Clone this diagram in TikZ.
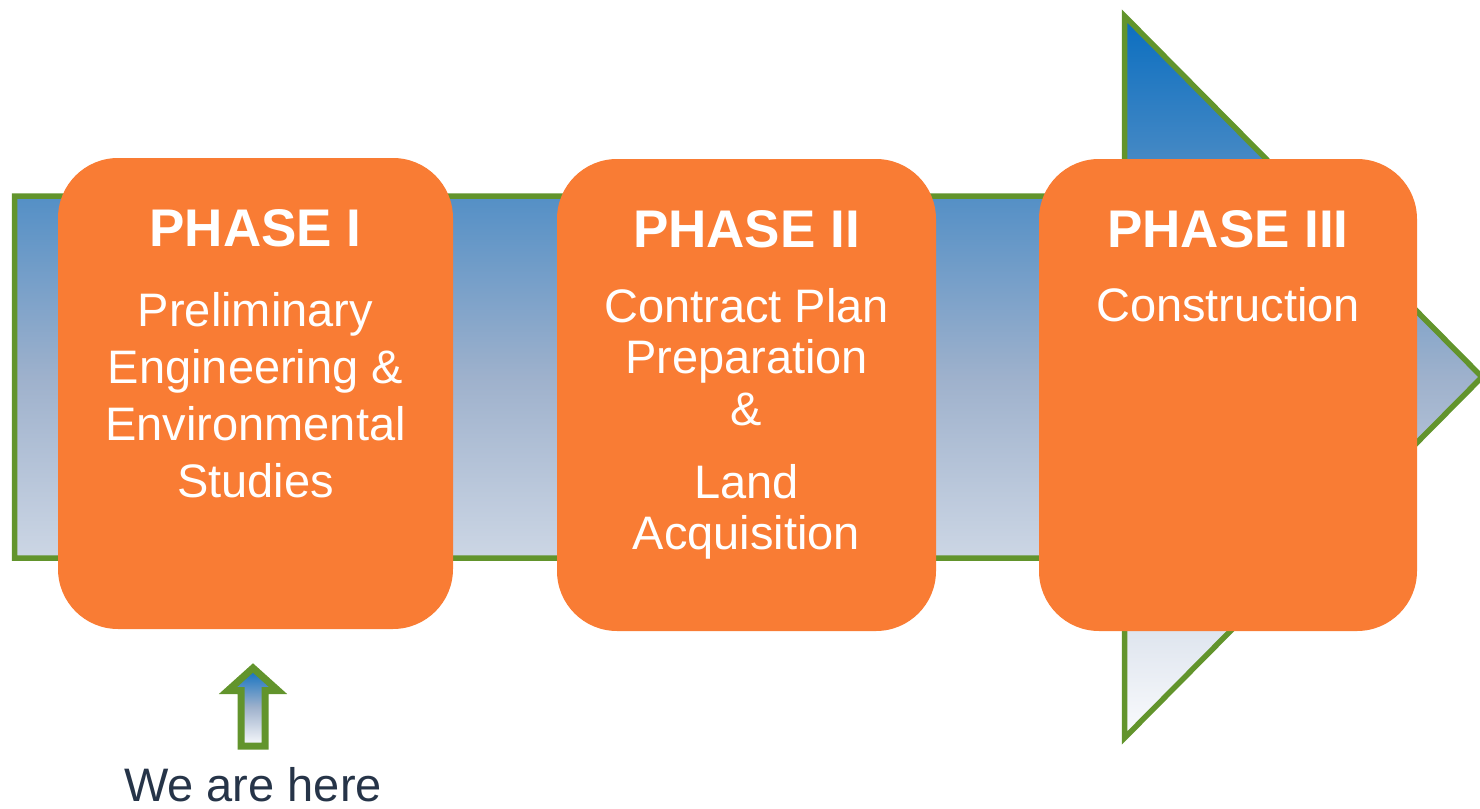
\documentclass[tikz,border=0pt]{standalone}
\usepackage{fontspec}
\setmainfont{Liberation Sans}
\usepackage{tikz}
\usetikzlibrary{positioning}
\definecolor{phaseorange}{RGB}{249,124,52}
\definecolor{arrowgreen}{RGB}{98,148,44}
\definecolor{arrowblue}{RGB}{10,110,192}
\definecolor{arrowgrey}{RGB}{158,177,204}
\definecolor{arrowwhite}{RGB}{250,251,253}
\definecolor{heretext}{RGB}{38,52,72}
\tikzstyle{phase} = [rectangle, rounded corners = 30, fill = phaseorange,
  inner sep = 0, minimum height = 236]
\tikzstyle{phasetitle} = [text = white, inner sep = 0, anchor = base,
  font = \fontsize{26.5}{32}\selectfont\bfseries]
\tikzstyle{phasetext} = [text = white, inner sep = 0, anchor = base,
  align = center, font = \fontsize{23.5}{28.5}\selectfont]
\tikzstyle{blockarrow} = [draw = arrowgreen, line width = 2.75,
  top color = arrowblue, bottom color = arrowwhite, middle color = arrowgrey]

\begin{document}
\begin{tikzpicture}[x = 0.5pt, y = -0.5pt, node distance = 0]
      \useasboundingbox (0, 0) rectangle (1480, 809);
      % big arrow
      \draw [blockarrow] (14.5, 196) -- (1124.5, 196) -- (1124.5, 16) --
      (1482, 377) -- (1124.5, 738) -- (1124.5, 558) -- (14.5, 558) -- cycle;
      % boxes
      \node [phase, minimum width = 197.5, minimum height = 235.5]
        (phase-1) at (255.5, 393.5) {};
      \node [phase, minimum width = 189.5, right of = phase-1, xshift = 245.5,
        yshift = -0.75] (phase-2) {};
      \node [phase, minimum width = 189, right of = phase-2, xshift = 240.75]
        (phase-3) {};
      % titles
      \node [phasetitle] (title-1) at ([yshift = -44.5] phase-1.north)
        {PHASE I};
      \node [phasetitle] (title-2) at ([yshift = -44.5] phase-2.north)
        {PHASE II};
      \node [phasetitle] (title-3) at ([yshift = -44.5] phase-3.north)
        {PHASE III};
      % texts (base = last line)
      \node [phasetext] (text-1) at ([yshift = -170] phase-1.north)
        {Preliminary\\Engineering \&\\Environmental\\Studies};
      \node [phasetext, font = \fontsize{23.5}{25.75}\selectfont] (text-2)
        at ([yshift = -195.5] phase-2.north)
        {Contract Plan\\Preparation\\\&\\[10.75pt]Land\\Acquisition};
      \node [phasetext] (text-3) at ([yshift = -81.5] phase-3.north)
        {Construction};
      % we are here
      \node [text = heretext, anchor = base, inner sep = 0,
        font = \fontsize{23.5}{28}\selectfont] (here) at (253, 801)
        {We are here};
      \draw [blockarrow, line width = 3.5] (241, 746) -- (241, 690.5) --
      (228, 690.5) -- (253, 668) -- (278, 690.5) -- (265, 690.5) --
      (265, 746) -- cycle;
    \end{tikzpicture}
\end{document}
